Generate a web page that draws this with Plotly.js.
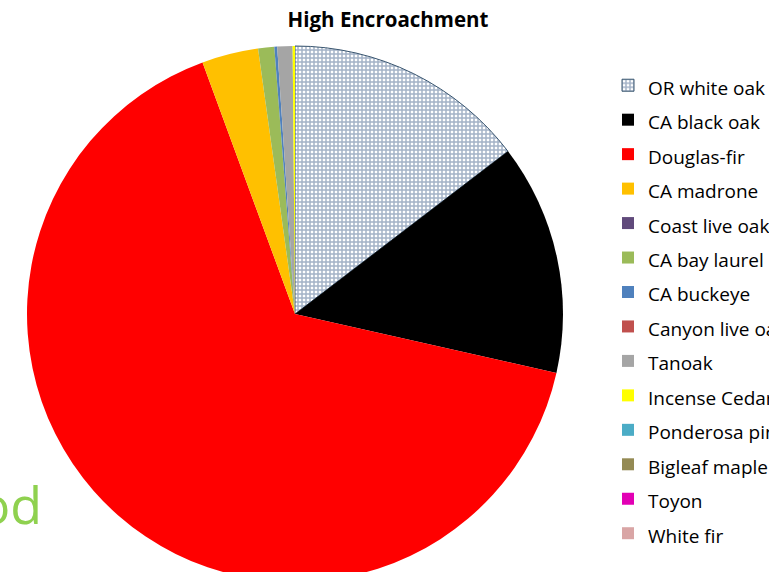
<!DOCTYPE html>
<html>
<head>
<meta charset="utf-8">
<script src="https://cdn.plot.ly/plotly-3.0.1.min.js"></script>
<style>
html,body{margin:0;padding:0;overflow:hidden;background:#fff;}
#chart{width:860px;height:600px;}
</style>
</head>
<body>
<div id="chart"></div>
<script>
// Data (percent of stems, clockwise from 12 o'clock)
const species = ["OR white oak","CA black oak","Douglas-fir","CA madrone","Coast live oak","CA bay laurel","CA buckeye","Canyon live oak","Tanoak","Incense Cedar","Ponderosa pine","Bigleaf maple","Toyon","White fir"];
const shares  = [14.6, 13.9, 65.8, 3.4, 0, 0.97, 0.17, 0, 0.92, 0.14, 0, 0, 0, 0];
const sliceColors = ["#ffffff","#000000","#ff0000","#ffc000","#604a7b","#9bbb59","#4f81bd","#c0504d","#a5a5a5","#ffff00","#4bacc6","#948a54","#e200b4","#d9a5a5"];
const chartTitle = "High Encroachment";

const W = 860, H = 600;
const cx = 295, cy = 314, R = 268;

const trace = {
  type: "pie",
  labels: species.map(s => '<span style="font-size:19px">' + s + '</span>'),
  values: shares,
  sort: false,
  direction: "clockwise",
  rotation: 0,
  textinfo: "none",
  hoverinfo: "skip",
  marker: {
    colors: sliceColors,
    line: {color: species.map((s,i) => i === 0 ? "#3a5670" : "rgba(0,0,0,0)"), width: species.map((s,i) => i === 0 ? 1 : 0)},
    pattern: {
      shape: species.map((s,i) => i === 0 ? "+" : ""),
      fgcolor: "#a3b2c7",
      bgcolor: "#ffffff",
      size: 4,
      solidity: 0.6
    }
  },
  domain: {x: [(cx - R)/W, (cx + R)/W], y: [(H - cy - R)/H, (H - cy + R)/H]}
};

const layout = {
  width: W, height: H,
  margin: {l:0, r:0, t:0, b:0, autoexpand: false},
  paper_bgcolor: "#ffffff",
  title: {
    text: "<b>" + chartTitle + "</b>",
    font: {family: "Open Sans, sans-serif", size: 20.5, color: "#000000"},
    x: 388/W, xanchor: "center", xref: "paper",
    y: 1 - 20/H, yanchor: "middle", yref: "container"
  },
  showlegend: true,
  legend: {
    x: 608/W, xanchor: "left", y: 1 - 63/H, yanchor: "top",
    font: {family: "Open Sans, sans-serif", size: 24.2, color: "#000000"},
    bgcolor: "rgba(0,0,0,0)", borderwidth: 0
  },
  annotations: [{
    text: "od", showarrow: false, xref: "paper", yref: "paper",
    x: 44/W, xanchor: "right", y: 1 - 503/H, yanchor: "middle",
    font: {family: "Open Sans, sans-serif", size: 52, color: "#8fd14f"}
  }]
};

Plotly.newPlot("chart", [trace], layout, {staticPlot: true, displayModeBar: false});
</script>
</body>
</html>
